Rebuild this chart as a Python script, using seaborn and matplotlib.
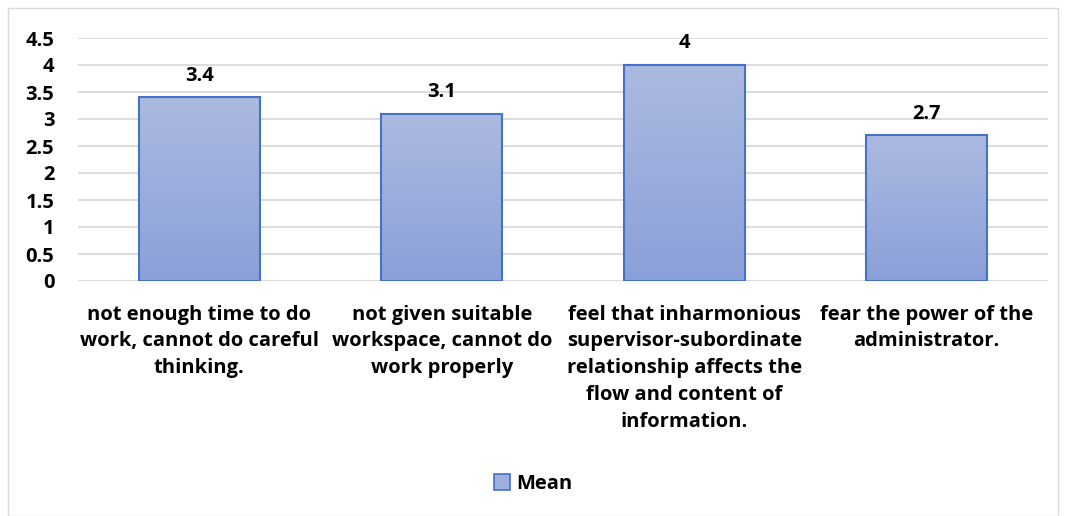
import matplotlib
matplotlib.use("Agg")
import matplotlib.pyplot as plt
import seaborn as sns
import numpy as np
import pandas as pd
from matplotlib.patches import Rectangle, Patch
from matplotlib.colors import LinearSegmentedColormap

categories = [
    "not enough time to do\nwork, cannot do careful\nthinking.",
    "not given suitable\nworkspace, cannot do\nwork properly",
    "feel that inharmonious\nsupervisor-subordinate\nrelationship affects the\nflow and content of\ninformation.",
    "fear the power of the\nadministrator.",
]
values = [3.4, 3.1, 4.0, 2.7]
value_labels = ["3.4", "3.1", "4", "2.7"]
yticks = [0, 0.5, 1, 1.5, 2, 2.5, 3, 3.5, 4, 4.5]
ytick_labels = ["0", "0.5", "1", "1.5", "2", "2.5", "3", "3.5", "4", "4.5"]

FS = 14.5
sns.set_theme(style="white")
plt.rcParams["font.family"] = ["Open Sans", "DejaVu Sans"]
plt.rcParams["font.weight"] = "bold"

fig = plt.figure(figsize=(10.67, 5.16), dpi=100)
ax = fig.add_axes([78 / 1067, 1 - 281 / 516, (1048 - 78) / 1067, (281 - 38) / 516])

df = pd.DataFrame({"cat": categories, "val": values})
sns.barplot(data=df, x="cat", y="val", ax=ax, width=0.5, color="#8FA5DA",
            edgecolor="#4472C4", linewidth=1.5, zorder=3)

ax.set_ylim(0, 4.5)
ax.set_xlim(-0.5, 3.5)
ax.set_yticks(yticks)
ax.set_yticklabels(ytick_labels, fontsize=FS, fontweight="bold", color="#000000")
ax.tick_params(axis="y", length=0, pad=17)
ax.tick_params(axis="x", length=0, pad=17)
for lab in ax.get_xticklabels():
    lab.set_fontsize(FS)
    lab.set_fontweight("bold")
    lab.set_linespacing(1.45)
    lab.set_va("top")
    lab.set_color("#000000")
ax.set_xlabel("")
ax.set_ylabel("")
for s in ax.spines.values():
    s.set_visible(False)
ax.yaxis.grid(True, color="#D9D9D9", linewidth=1.3, zorder=0)
ax.set_axisbelow(True)

cmap = LinearSegmentedColormap.from_list("g", ["#8AA0D8", "#ABBAE0"])
grad = np.linspace(0, 1, 256).reshape(-1, 1)
for p, lbl in zip(ax.patches, value_labels):
    x0, y0 = p.get_x(), p.get_y()
    w, h = p.get_width(), p.get_height()
    im = ax.imshow(grad, cmap=cmap, aspect="auto", origin="lower",
                   extent=[x0, x0 + w, y0, y0 + h], zorder=2.5)
    im.set_clip_path(p)
    p.set_facecolor("none")
    ax.text(x0 + w / 2, y0 + h + 0.4, lbl, ha="center", va="center",
            fontsize=FS, fontweight="bold", color="#000000")
ax.set_xlim(-0.5, 3.5)
ax.set_ylim(0, 4.5)

handle = Patch(facecolor="#9DB0DE", edgecolor="#4472C4", linewidth=1.2)
leg = fig.legend([handle], ["Mean"], loc="center", bbox_to_anchor=(533 / 1067, 1 - 484 / 516),
                 frameon=False, prop={"size": FS, "weight": "bold"},
                 handlelength=0.8, handleheight=0.8, handletextpad=0.3)
for t in leg.get_texts():
    t.set_color("#000000")

fig.add_artist(Rectangle((8 / 1067, 0), (1058 - 8) / 1067, 1 - 8 / 516,
                         transform=fig.transFigure, fill=False,
                         edgecolor="#D9D9D9", linewidth=1.0))

fig.savefig("out.png", dpi=100)
